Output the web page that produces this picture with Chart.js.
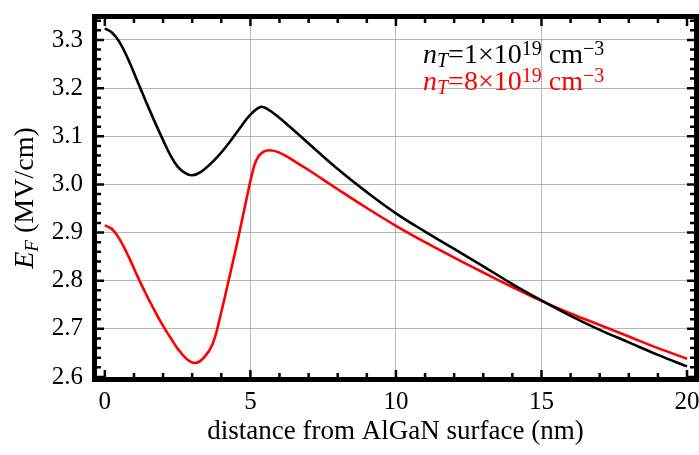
<!DOCTYPE html>
<html>
<head>
<meta charset="utf-8">
<script src="https://cdn.jsdelivr.net/npm/chart.js@4/dist/chart.umd.min.js"></script>
<style>
  html, body { margin: 0; padding: 0; background: #fff; }
</style>
</head>
<body>
<canvas id="Grafico" width="699" height="455"></canvas>
<script>
// Dados (distância em nm, campo em MV/cm)
const distBlack = [0, 0.25, 0.5, 0.8, 1.1, 1.4, 1.7, 2, 2.25, 2.5, 2.75, 3, 3.3, 3.8, 4.25, 4.7, 5, 5.35, 5.6, 5.9, 6.5, 7, 8, 9, 10, 11, 12, 13, 14, 15, 16, 17, 18, 19, 20];
const fieldBlack = [3.324, 3.315, 3.296, 3.26, 3.217, 3.174, 3.132, 3.092, 3.061, 3.037, 3.024, 3.019, 3.026, 3.053, 3.085, 3.122, 3.145, 3.161, 3.156, 3.143, 3.112, 3.085, 3.032, 2.984, 2.94, 2.902, 2.866, 2.83, 2.793, 2.759, 2.727, 2.698, 2.672, 2.646, 2.622];

const distRed = [0, 0.25, 0.5, 0.8, 1.1, 1.4, 1.7, 2, 2.25, 2.5, 2.8, 3.1, 3.4, 3.7, 4, 4.25, 4.55, 4.85, 5.05, 5.2, 5.4, 5.65, 6, 6.6, 7, 8, 9, 10, 11, 12, 13, 14, 15, 16, 17, 18, 19, 20];
const fieldRed = [2.915, 2.907, 2.887, 2.852, 2.812, 2.774, 2.739, 2.706, 2.682, 2.659, 2.638, 2.629, 2.64, 2.668, 2.735, 2.80, 2.88, 2.965, 3.02, 3.05, 3.066, 3.071, 3.066, 3.045, 3.03, 2.99, 2.951, 2.914, 2.88, 2.848, 2.817, 2.787, 2.758, 2.732, 2.708, 2.684, 2.66, 2.638];

// Legenda: n_T = mantissa × 10^expoente cm^-3
const nTMantissa = ['1', '8'];
const nTExponent = ['19', '19'];
const seriesColors = ['#000000', '#ff0000'];

// Marcas dos eixos
const xTicks = [0, 5, 10, 15, 20];
const yTicks = [2.6, 2.7, 2.8, 2.9, 3.0, 3.1, 3.2, 3.3];
const xMinorStep = 1;
const yMinorStep = 0.02;

const serif = '"Liberation Serif", "Times New Roman", serif';

function toPoints(xs, ys) {
    return xs.map((x, i) => ({ x: x, y: ys[i] }));
}

// Moldura grossa e marcas para dentro (estilo Mathematica)
const framePlugin = {
    id: 'moldura',
    afterDraw(chart) {
        const { ctx, chartArea: a, scales } = chart;
        ctx.save();
        ctx.strokeStyle = '#000';
        ctx.lineWidth = 2.5;
        // marcas em x
        for (let k = 0; k <= 20; k++) {
            const v = k * xMinorStep;
            const px = scales.x.getPixelForValue(v);
            const len = xTicks.includes(v) ? 7 : 4;
            ctx.beginPath();
            ctx.moveTo(px, a.bottom); ctx.lineTo(px, a.bottom - len);
            ctx.moveTo(px, a.top); ctx.lineTo(px, a.top + len);
            ctx.stroke();
        }
        // marcas em y
        for (let k = 0; k <= 37; k++) {
            const v = 2.6 + k * yMinorStep;
            if (v > scales.y.max) break;
            const py = scales.y.getPixelForValue(v);
            const len = k % 5 === 0 ? 7 : 4;
            ctx.beginPath();
            ctx.moveTo(a.left, py); ctx.lineTo(a.left + len, py);
            ctx.moveTo(a.right, py); ctx.lineTo(a.right - len, py);
            ctx.stroke();
        }
        ctx.lineWidth = 5;
        ctx.strokeRect(a.left - 2.5, a.top - 2.5, a.right - a.left + 5, a.bottom - a.top + 5);

        // título do eixo y: E_F (MV/cm)
        ctx.fillStyle = '#000';
        ctx.textBaseline = 'alphabetic';
        ctx.translate(33, (a.top + a.bottom) / 2);
        ctx.rotate(-Math.PI / 2);
        const parts = [
            { t: 'E', f: 'italic 28px ' + serif, dy: 0 },
            { t: 'F', f: 'italic 19px ' + serif, dy: 5 },
            { t: ' (MV/cm)', f: '28px ' + serif, dy: 0 }
        ];
        let total = 0;
        parts.forEach(p => { ctx.font = p.f; p.w = ctx.measureText(p.t).width; total += p.w; });
        let x = -total / 2;
        parts.forEach(p => { ctx.font = p.f; ctx.fillText(p.t, x, p.dy); x += p.w; });
        ctx.restore();
    }
};

const legendPlugin = {
    id: 'legendaNT',
    afterDraw(chart) {
        const ctx = chart.ctx;
        const baselines = [63, 90];
        ctx.save();
        ctx.textBaseline = 'alphabetic';
        chart.data.datasets.forEach((ds, i) => {
            ctx.fillStyle = seriesColors[i];
            let x = 423;
            const y = baselines[i];
            const parts = [
                { t: 'n', f: 'italic 28px ' + serif, dy: 0 },
                { t: 'T', f: 'italic 20px ' + serif, dy: 4 },
                { t: '=' + nTMantissa[i] + '×10', f: '28px ' + serif, dy: 0 },
                { t: nTExponent[i], f: '20px ' + serif, dy: -8 },
                { t: ' cm', f: '28px ' + serif, dy: 0 },
                { t: '\u22123', f: '20px ' + serif, dy: -8 }
            ];
            parts.forEach(p => {
                ctx.font = p.f;
                ctx.fillText(p.t, x, y + p.dy);
                x += ctx.measureText(p.t).width;
            });
        });
        ctx.restore();
    }
};

const ctx = document.getElementById('Grafico').getContext('2d');

new Chart(ctx, {
    type: 'line',
    data: {
        datasets: [{
            label: 'nT=1e19',
            data: toPoints(distBlack, fieldBlack),
            borderColor: seriesColors[0],
            borderWidth: 2.6,
            pointRadius: 0,
            tension: 0.4,
            fill: false
        }, {
            label: 'nT=8e19',
            data: toPoints(distRed, fieldRed),
            borderColor: seriesColors[1],
            borderWidth: 2.6,
            pointRadius: 0,
            tension: 0.4,
            fill: false
        }]
    },
    options: {
        responsive: false,
        animation: false,
        layout: { padding: { top: 19, right: 5, left: 0, bottom: 0 } },
        plugins: {
            legend: { display: false },
            tooltip: { enabled: false }
        },
        scales: {
            x: {
                type: 'linear',
                min: -0.27,
                max: 20.24,
                afterBuildTicks: scale => { scale.ticks = xTicks.map(v => ({ value: v })); },
                afterFit: scale => {
                    scale.height = 78;
                    scale.paddingLeft = 0; scale.paddingRight = 0;
                    scale.paddingTop = 0; scale.paddingBottom = 0;
                },
                border: { display: false },
                grid: {
                    drawTicks: false,
                    lineWidth: 1,
                    color: c => (c.tick && (c.tick.value === 0 || c.tick.value === 20)) ? 'rgba(0,0,0,0)' : '#b4b4b4'
                },
                ticks: {
                    autoSkip: false,
                    maxRotation: 0,
                    padding: 10,
                    color: '#000',
                    font: { family: serif, size: 25 },
                    callback: v => String(v)
                },
                title: {
                    display: true,
                    text: 'distance from AlGaN surface (nm)',
                    color: '#000',
                    font: { family: serif, size: 27 },
                    padding: { top: 0, bottom: 7 }
                }
            },
            y: {
                type: 'linear',
                min: 2.6,
                max: 3.3436,
                afterBuildTicks: scale => { scale.ticks = yTicks.map(v => ({ value: v })); },
                afterFit: scale => {
                    scale.width = 97;
                    scale.paddingLeft = 0; scale.paddingRight = 0;
                    scale.paddingTop = 0; scale.paddingBottom = 0;
                },
                border: { display: false },
                grid: {
                    drawTicks: false,
                    lineWidth: 1,
                    color: c => (c.tick && c.tick.value === 2.6) ? 'rgba(0,0,0,0)' : '#b4b4b4'
                },
                ticks: {
                    padding: 14,
                    color: '#000',
                    font: { family: serif, size: 25 },
                    callback: v => v.toFixed(1)
                }
            }
        }
    },
    plugins: [framePlugin, legendPlugin]
});
</script>
</body>
</html>
